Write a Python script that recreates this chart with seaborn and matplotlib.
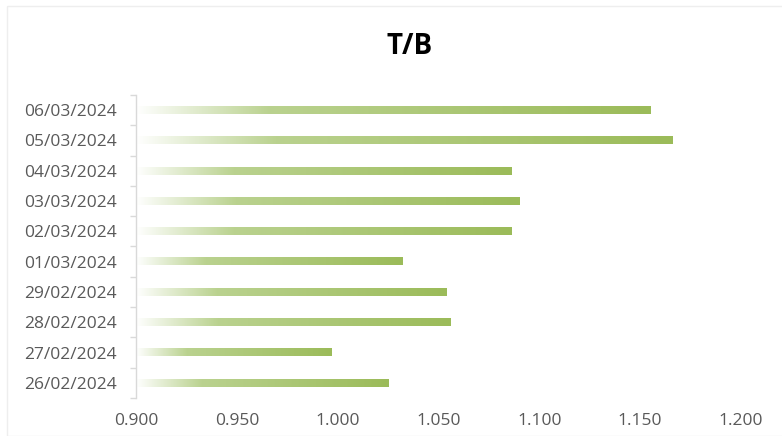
import numpy as np
import matplotlib
matplotlib.use("Agg")
import matplotlib.pyplot as plt
from matplotlib.colors import to_rgb
from matplotlib.patches import Rectangle
import seaborn as sns

dates = ["06/03/2024", "05/03/2024", "04/03/2024", "03/03/2024", "02/03/2024",
         "01/03/2024", "29/02/2024", "28/02/2024", "27/02/2024", "26/02/2024"]
tb_values = [1.155, 1.166, 1.086, 1.090, 1.086, 1.032, 1.054, 1.056, 0.997, 1.025]
x_ticks = [0.900, 0.950, 1.000, 1.050, 1.100, 1.150, 1.200]

sns.set_theme(style="white")
plt.rcParams["font.family"] = ["Open Sans", "DejaVu Sans"]

fig = plt.figure(figsize=(7.82, 4.36), dpi=100)
ax = fig.add_axes([136 / 782, 1 - 398 / 436, (741 - 136) / 782, (398 - 95) / 436])

sns.barplot(x=tb_values, y=dates, orient="h", width=0.25, ax=ax,
            color="#9bbb59", saturation=1)

x0, x1 = x_ticks[0], x_ticks[-1]

# per-bar fade: white at the axis, light green, then deeper olive green at the tip
white = np.array([1.0, 1.0, 1.0])
light = np.array(to_rgb("#bad28f"))
deep = np.array(to_rgb("#9bbb59"))


def bar_gradient(n=400):
    f = np.linspace(0, 1, n)
    grad = np.zeros((1, n, 3))
    t1 = np.clip(f / 0.26, 0, 1)[:, None]
    t2 = np.clip((f - 0.26) / 0.74, 0, 1)[:, None]
    c = white * (1 - t1) + light * t1
    c = c * (1 - t2) + deep * t2
    grad[0] = c
    return grad


grad = bar_gradient()
for patch in ax.patches:
    patch.set_facecolor("none")
    patch.set_edgecolor("none")
    y = patch.get_y()
    h = patch.get_height()
    left = max(x0, patch.get_x())
    right = patch.get_x() + patch.get_width()
    ax.imshow(grad, extent=(left, right, y + h, y), aspect="auto",
              interpolation="bilinear", zorder=2)

ax.set_xlim(x0, x1)
ax.set_ylim(len(dates) - 0.5, -0.5)

ax.set_xticks(x_ticks)
ax.set_xticklabels([f"{v:.3f}" for v in x_ticks])
ax.set_yticks(range(len(dates)))
ax.set_yticklabels(dates)
ax.set_yticks(np.arange(-0.5, len(dates), 1.0), minor=True)
ax.tick_params(axis="y", which="major", length=0, pad=14, labelsize=12.5,
               labelcolor="#595959")
ax.tick_params(axis="y", which="minor", length=4, width=1, color="#d9d9d9",
               direction="out", left=True)
ax.tick_params(axis="x", length=0, pad=11, labelsize=12.5, labelcolor="#595959")

for side in ["top", "right", "bottom"]:
    ax.spines[side].set_visible(False)
ax.spines["left"].set_color("#d9d9d9")
ax.spines["left"].set_linewidth(1.0)
ax.set_xlabel("")
ax.set_ylabel("")
ax.grid(False)

fig.text(410 / 782, 1 - 47 / 436, "T/B", ha="center", va="center",
         fontsize=20, fontweight="bold", color="#000000")

fig.patches.append(Rectangle((7 / 782, 0), 1, 1 - 6 / 436, transform=fig.transFigure,
                             fill=False, edgecolor="#eeeeee", linewidth=1))

fig.savefig("out.png", dpi=100, facecolor="white")
